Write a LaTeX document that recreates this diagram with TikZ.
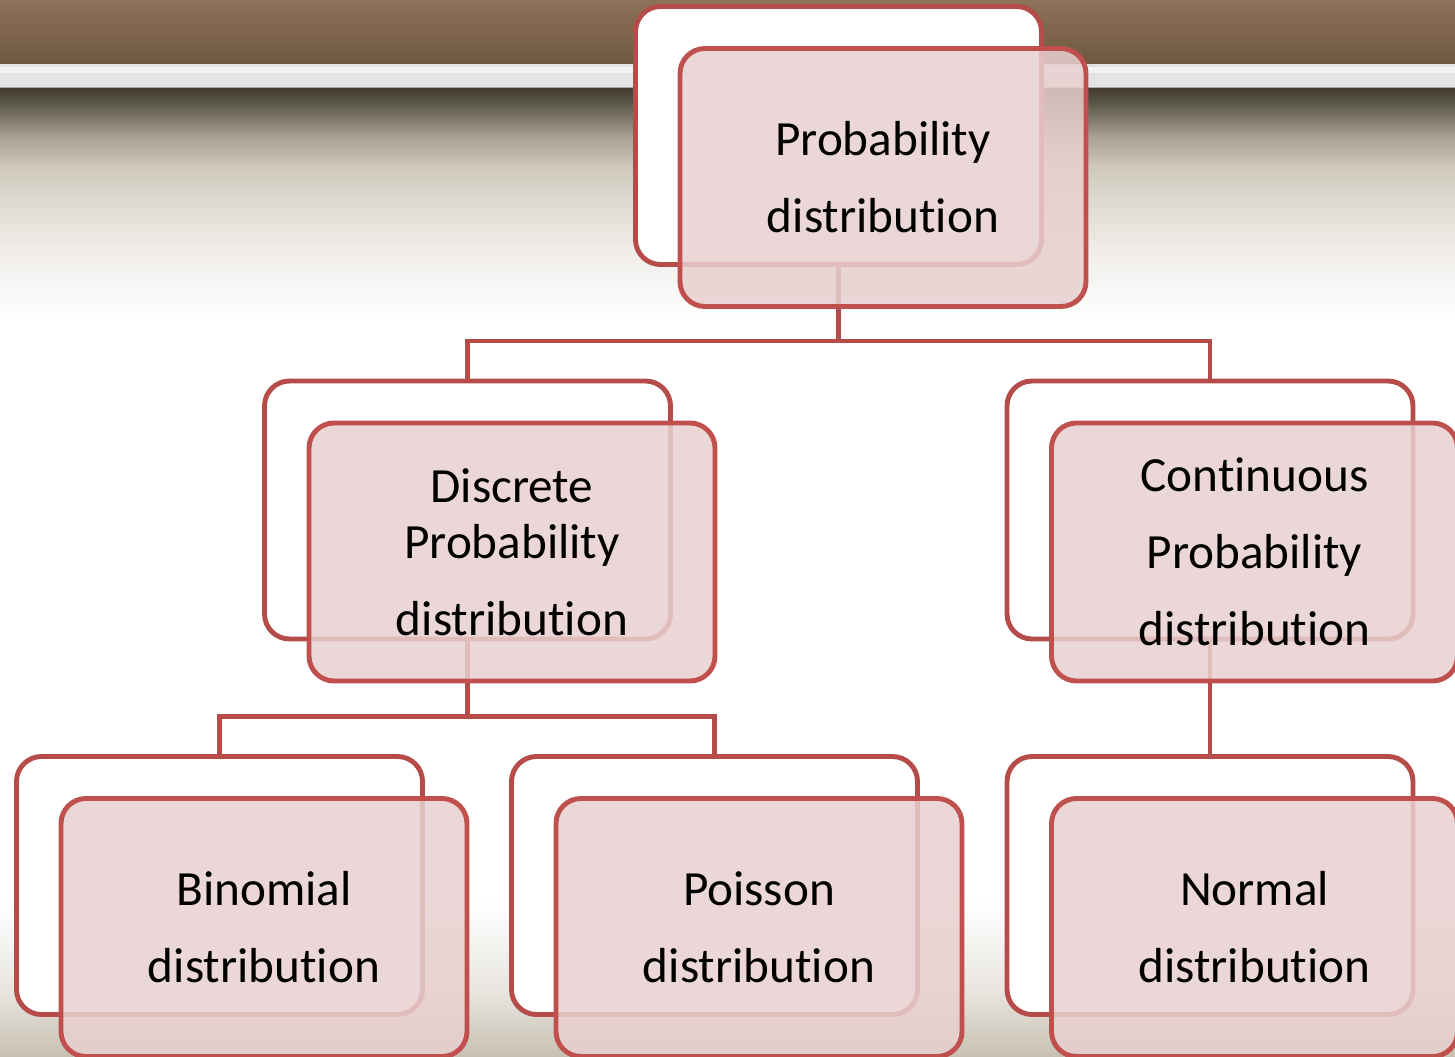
\documentclass[tikz,border=0pt]{standalone}
\usepackage{fontspec}
\setmainfont{Carlito}[Ligatures=NoCommon]
\usetikzlibrary{positioning, calc}
\definecolor{boxred}{RGB}{192,80,77}
\definecolor{backred}{RGB}{181,76,73}
\definecolor{pinkfill}{RGB}{232,208,208}
\definecolor{wood}{RGB}{140,114,88}
\definecolor{wooddark}{RGB}{112,88,64}
\tikzset{
    backbox/.style={draw=backred, line width=1.4pt, fill=white, rounded corners=0.25cm,
        minimum width=4.06cm, minimum height=2.58cm, inner sep=0pt},
    frontbox/.style={draw=boxred, line width=1.4pt, fill=pinkfill, fill opacity=0.85, text opacity=1,
        rounded corners=0.25cm, minimum width=4.06cm, minimum height=2.58cm, inner sep=0pt,
        align=center, font=\fontsize{14}{21.9}\selectfont},
    link/.style={draw=backred, line width=1.4pt}
}

\begin{document}
\begin{tikzpicture}
    \useasboundingbox (0,0) rectangle (14.55,-10.57);
    \clip (0,0) rectangle (14.55,-10.57);

    % background
    \fill[white] (0,0) rectangle (14.55,-10.57);
    \shade[top color=wood, bottom color=wooddark] (0,0) rectangle (14.55,-0.64);
    \fill[black!11!white] (0,-0.64) rectangle (14.55,-0.88);
    \fill[black!5!white] (0,-0.67) rectangle (14.55,-0.73);
    \fill[black!35!white] (0,-0.87) rectangle (14.55,-0.89);
    \shade[top color={rgb,255:red,70;green,62;blue,52}, bottom color={rgb,255:red,95;green,92;blue,76}] (0,-0.89) rectangle (14.55,-1.06);
    \shade[top color={rgb,255:red,95;green,92;blue,76}, bottom color={rgb,255:red,168;green,158;blue,145}] (0,-1.05) rectangle (14.55,-1.36);
    \shade[top color={rgb,255:red,168;green,158;blue,145}, bottom color={rgb,255:red,206;green,199;blue,187}] (0,-1.35) rectangle (14.55,-1.66);
    \shade[top color={rgb,255:red,206;green,199;blue,187}, bottom color={rgb,255:red,222;green,218;blue,208}] (0,-1.65) rectangle (14.55,-2.01);
    \shade[top color={rgb,255:red,222;green,218;blue,208}, bottom color={rgb,255:red,240;green,237;blue,234}] (0,-2) rectangle (14.55,-2.51);
    \shade[top color={rgb,255:red,240;green,237;blue,234}, bottom color=white] (0,-2.5) rectangle (14.55,-3.2);
    \shade[top color=white, bottom color={rgb,255:red,233;green,230;blue,224}] (0,-9) rectangle (14.55,-9.91);
    \shade[top color={rgb,255:red,233;green,230;blue,224}, bottom color={rgb,255:red,200;green,192;blue,178}] (0,-9.9) rectangle (14.55,-10.57);

    % back boxes
    \node[backbox] (probBack) at (8.385,-1.355) {};
    \node[backbox] (discBack) at (4.675,-5.10) {};
    \node[backbox] (contBack) at (12.10,-5.10) {};
    \node[backbox] (binoBack) at (2.195,-8.855) {};
    \node[backbox] (poisBack) at (7.145,-8.855) {};
    \node[backbox] (normBack) at (12.10,-8.855) {};

    % connectors
    \foreach \kid in {discBack, contBack}
        \draw[link] (\kid.north) -- ++(0,0.375) -| (probBack.south);
    \foreach \kid in {binoBack, poisBack}
        \draw[link] (\kid.north) -- ++(0,0.375) -| (discBack.south);
    \draw[link] (contBack.south) -- (normBack.north);

    % front boxes
    \node[frontbox] (prob) at ($(probBack)+(0.445,-0.42)$) {Probability\\distribution};
    \node[frontbox] (disc) at ($(discBack)+(0.445,-0.42)$) {Discrete\\[-6pt]Probability\\distribution};
    \node[frontbox] (cont) at ($(contBack)+(0.445,-0.42)$) {Continuous\\Probability\\distribution};
    \node[frontbox] (bino) at ($(binoBack)+(0.445,-0.42)$) {Binomial\\distribution};
    \node[frontbox] (pois) at ($(poisBack)+(0.445,-0.42)$) {Poisson\\distribution};
    \node[frontbox] (norm) at ($(normBack)+(0.445,-0.42)$) {Normal\\distribution};
\end{tikzpicture}
\end{document}
